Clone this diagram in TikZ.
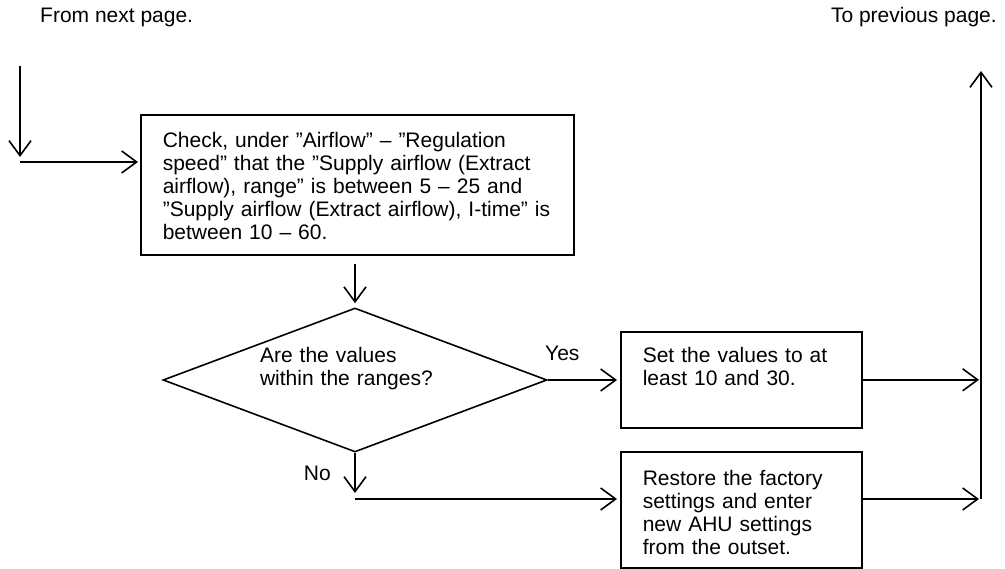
\documentclass[tikz,border=0pt]{standalone}
\usepackage{fontspec}
\setmainfont{Liberation Sans}
\usetikzlibrary{shapes.geometric,arrows.meta}

\begin{document}
\begin{tikzpicture}
[
    x=1pt, y=-1pt,
    every node/.style={font=\fontsize{21}{23}\selectfont, inner sep=0pt},
    flow/.style={line width=1.6pt, -{Straight Barb[length=15pt,width=22pt]}},
    procbox/.style={draw, line width=1.6pt, anchor=north west, align=left, inner xsep=22pt, inner ysep=12pt},
    decision/.style={draw, line width=1.6pt, diamond, aspect=2.667, align=left, minimum width=384pt, minimum height=144pt}
]
    \useasboundingbox (0,0) rectangle (1005,569);

    % page links
    \node (from) [anchor=base west] at (40,23) {From next page.};
    \node (to) [anchor=base east] at (997,23) {To previous page.};

    % boxes
    \node (check) [procbox, text width=389pt, text height=21pt, text depth=95pt] at (140,114)
        {Check, under ”Airflow” – ”Regulation\\speed” that the ”Supply airflow (Extract\\airflow), range” is between 5 – 25 and\\”Supply airflow (Extract airflow), I-time” is\\between 10 – 60.};
    \node (dec) [decision, text width=190pt, text height=15pt, text depth=49pt] at (355,380)
        {Are the values\\within the ranges?};
    \node (set) [procbox, text width=197pt, text height=19pt, text depth=53pt] at (620,331)
        {Set the values to at\\least 10 and 30.};
    \node (restore) [procbox, text width=197pt, text height=22pt, text depth=70pt] at (620,451)
        {Restore the factory\\settings and enter\\new AHU settings\\from the outset.};

    \node (yes) [anchor=base west] at (545,361) {Yes};
    \node (no) [anchor=base east] at (331,481) {No};

    \coordinate (intop) at (20,66);
    \coordinate (incorner) at (20,162);
    \coordinate (nocorner) at (355,499);
    \coordinate (outcorner) at (981,499);
    \coordinate (outtop) at (981,71);

    % connectors
    \draw[flow] (intop) -- ([yshift=5pt]incorner);
    \draw[flow, shorten >=2pt] (incorner) -- (check.west |- incorner);
    \draw[flow, shorten >=4pt] ([yshift=-8pt]dec.north |- check.south) -- (dec.north);
    \draw[flow, shorten >=3pt] (dec.east) -- (dec.east -| set.west);
    \draw[flow] (dec.south) -- ([yshift=6pt]nocorner);
    \draw[flow, shorten >=3pt] (nocorner) -- (nocorner -| restore.west);
    \draw[flow, shorten >=2pt] (set.east) -- (set.east -| outcorner);
    \draw[flow, shorten >=2pt] (restore.east |- nocorner) -- (outcorner);
    \draw[flow] (outcorner) -- (outtop);
\end{tikzpicture}
\end{document}
